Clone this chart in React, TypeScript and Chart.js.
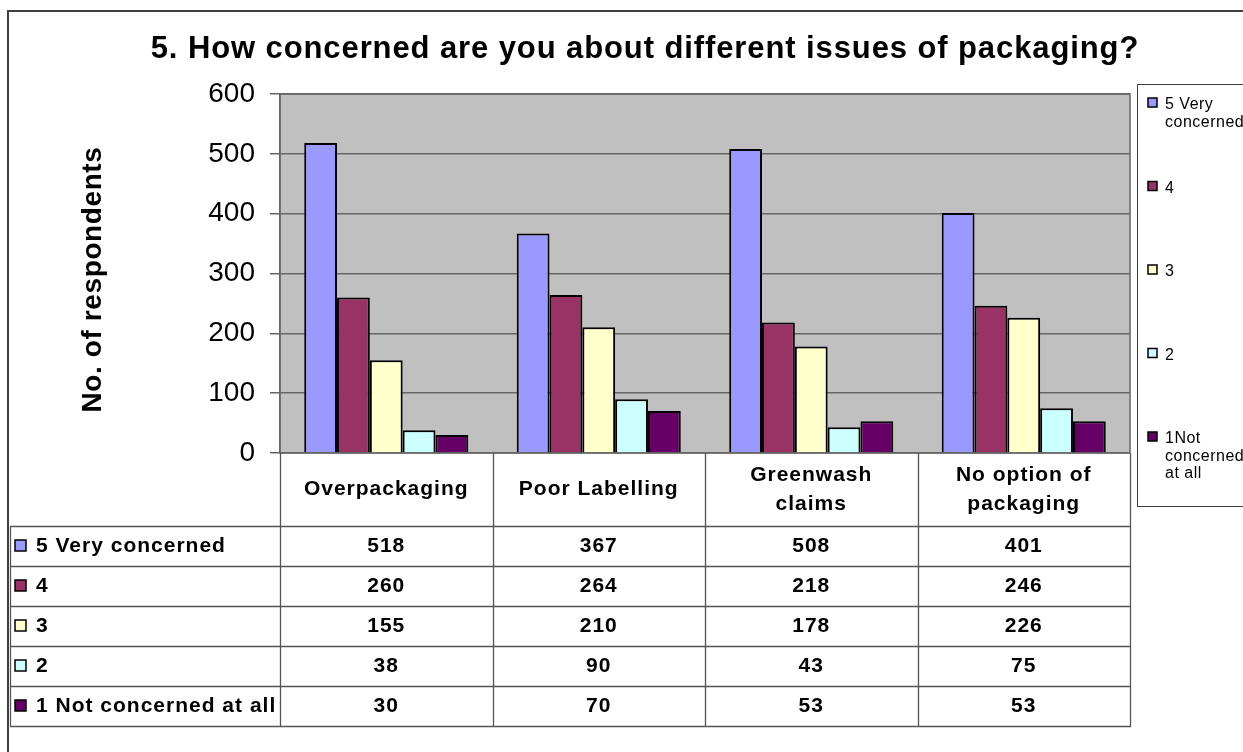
import React, { useEffect, useRef } from 'react';
import { Chart, registerables } from 'chart.js';

Chart.register(...registerables);

const title = '5. How concerned are you about different issues of packaging?';
const yTitle = 'No. of respondents';
const categories = ['Overpackaging', 'Poor Labelling', 'Greenwash claims', 'No option of packaging'];
const categoryLines = [['Overpackaging'], ['Poor Labelling'], ['Greenwash', 'claims'], ['No option of', 'packaging']];
const seriesLabels = ['5 Very concerned', '4', '3', '2', '1 Not concerned at all'];
const legendLines = [['5 Very', 'concerned'], ['4'], ['3'], ['2'], ['1Not', 'concerned', 'at all']];
const seriesColors = ['#9999FF', '#993366', '#FFFFCC', '#CCFFFF', '#660066'];
const veryConcerned = [518, 367, 508, 401];
const four = [260, 264, 218, 246];
const three = [155, 210, 178, 226];
const two = [38, 90, 43, 75];
const notConcerned = [30, 70, 53, 53];
const yTicks = [0, 100, 200, 300, 400, 500, 600];

const seriesValues = [veryConcerned, four, three, two, notConcerned];

const FONT = '"Liberation Sans", Arial, sans-serif';
const GRID = '#666666';

const decor = {
  id: 'decor',
  beforeDraw(chart: any) {
    const { ctx, chartArea: a } = chart;
    ctx.save();
    ctx.fillStyle = '#ffffff';
    ctx.fillRect(0, 0, chart.width, chart.height);
    ctx.fillStyle = '#C0C0C0';
    ctx.fillRect(a.left, a.top, a.right - a.left, a.bottom - a.top);
    ctx.strokeStyle = '#404040';
    ctx.lineWidth = 2;
    ctx.beginPath();
    ctx.moveTo(8, chart.height + 4);
    ctx.lineTo(8, 11);
    ctx.lineTo(chart.width + 4, 11);
    ctx.stroke();
    ctx.restore();
  },
  beforeDatasetsDraw(chart: any) {
    const { ctx, chartArea: a } = chart;
    ctx.save();
    ctx.strokeStyle = GRID;
    ctx.lineWidth = 1.5;
    ctx.strokeRect(a.left, a.top, a.right - a.left, a.bottom - a.top);
    ctx.restore();
  },
  afterDraw(chart: any) {
    const { ctx, chartArea: a } = chart;
    const xs = chart.scales.x;
    ctx.save();
    ctx.fillStyle = '#000';

    // Title
    ctx.font = `bold 31px ${FONT}`;
    (ctx as any).letterSpacing = '0.9px';
    ctx.textAlign = 'center';
    ctx.textBaseline = 'alphabetic';
    ctx.fillText(title, 645, 58);

    // Y axis title
    ctx.save();
    ctx.translate(93, (a.top + a.bottom) / 2 + 6);
    ctx.rotate(-Math.PI / 2);
    ctx.font = `bold 28px ${FONT}`;
    (ctx as any).letterSpacing = '0.6px';
    ctx.textAlign = 'center';
    ctx.textBaseline = 'middle';
    ctx.fillText(yTitle, 0, 0);
    ctx.restore();

    // Data table
    const n = categories.length;
    const colW = (a.right - a.left) / n;
    const headTop = a.bottom;
    const headBottom = a.bottom + 73;
    const rowH = 40;
    const rows = seriesLabels.length;
    const tableBottom = headBottom + rows * rowH;
    const tableLeft = 10;

    ctx.strokeStyle = '#555555';
    ctx.lineWidth = 1.3;
    ctx.beginPath();
    for (let k = 0; k <= n; k++) {
      const x = Math.round(a.left + k * colW) + 0.5;
      ctx.moveTo(x, headTop);
      ctx.lineTo(x, tableBottom);
    }
    ctx.moveTo(tableLeft + 0.5, headBottom);
    ctx.lineTo(tableLeft + 0.5, tableBottom);
    for (let r = 0; r <= rows; r++) {
      const y = Math.round(headBottom + r * rowH) + 0.5;
      ctx.moveTo(tableLeft, y);
      ctx.lineTo(Math.round(a.right) + 1, y);
    }
    ctx.stroke();

    ctx.font = `bold 21px ${FONT}`;
    (ctx as any).letterSpacing = '1px';
    ctx.textAlign = 'center';
    ctx.textBaseline = 'middle';
    const headMid = (headTop + headBottom) / 2;
    categoryLines.forEach((lines, i) => {
      const cx = xs.getPixelForValue(i);
      const lh = 29;
      const y0 = headMid - ((lines.length - 1) * lh) / 2;
      lines.forEach((t, j) => ctx.fillText(t, cx, y0 + j * lh));
    });

    seriesLabels.forEach((label, r) => {
      const cy = headBottom + r * rowH + rowH / 2;
      ctx.fillStyle = seriesColors[r];
      ctx.fillRect(15, cy - 6, 11, 11);
      ctx.strokeStyle = '#000';
      ctx.lineWidth = 1.5;
      ctx.strokeRect(15, cy - 6, 11, 11);
      ctx.fillStyle = '#000';
      ctx.textAlign = 'left';
      ctx.fillText(label, 36, cy);
      ctx.textAlign = 'center';
      const data = chart.data.datasets[r].data;
      for (let i = 0; i < n; i++) {
        ctx.fillText(String(data[i]), xs.getPixelForValue(i), cy);
      }
    });

    // Legend
    (ctx as any).letterSpacing = '0.5px';
    const boxL = 1137, boxT = 84, boxB = 506;
    ctx.strokeStyle = '#404040';
    ctx.lineWidth = 1;
    ctx.strokeRect(boxL + 0.5, boxT + 0.5, chart.width, boxB - boxT);
    ctx.font = `16px ${FONT}`;
    ctx.textAlign = 'left';
    ctx.textBaseline = 'alphabetic';
    legendLines.forEach((lines, i) => {
      const base = boxT + 25 + i * 83.5;
      ctx.fillStyle = seriesColors[i];
      ctx.fillRect(1148, base - 11, 9, 9);
      ctx.strokeStyle = '#000';
      ctx.lineWidth = 1.5;
      ctx.strokeRect(1148, base - 11, 9, 9);
      ctx.fillStyle = '#000';
      lines.forEach((t, j) => ctx.fillText(t, 1165, base + j * 17.5));
    });

    ctx.restore();
  },
};

export default function App() {
  const ref = useRef<HTMLCanvasElement>(null);
  useEffect(() => {
    const chart = new Chart(ref.current as HTMLCanvasElement, {
      type: 'bar',
      data: {
        labels: categories,
        datasets: seriesLabels.map((label, i) => ({
          label,
          data: seriesValues[i],
          backgroundColor: seriesColors[i],
          borderColor: '#000000',
          borderWidth: 2,
          categoryPercentage: 0.772,
          barPercentage: 1,
        })),
      },
      options: {
        responsive: false,
        animation: false,
        devicePixelRatio: 1,
        layout: { padding: { left: 0, top: 94, right: 113, bottom: 299 } },
        plugins: {
          legend: { display: false },
          title: { display: false },
          tooltip: { enabled: false },
        },
        scales: {
          x: { display: false },
          y: {
            min: 0,
            max: 600,
            afterBuildTicks: (s: any) => {
              s.ticks = yTicks.map((v) => ({ value: v }));
            },
            afterFit: (s: any) => {
              s.width = 280;
            },
            ticks: { font: { family: FONT, size: 28 }, color: '#000', padding: 15 },
            grid: { color: GRID, tickColor: GRID, tickLength: 10, lineWidth: 1.5 },
            border: { color: GRID, width: 1.5 },
          },
        },
      },
      plugins: [decor],
    } as any);
    return () => chart.destroy();
  }, []);
  return (
    <div style={{ position: 'fixed', left: 0, top: 0, width: 1243, height: 752, background: '#fff', overflow: 'hidden' }}>
      <canvas ref={ref} width={1243} height={752} style={{ display: 'block', width: 1243, height: 752 }} />
    </div>
  );
}
